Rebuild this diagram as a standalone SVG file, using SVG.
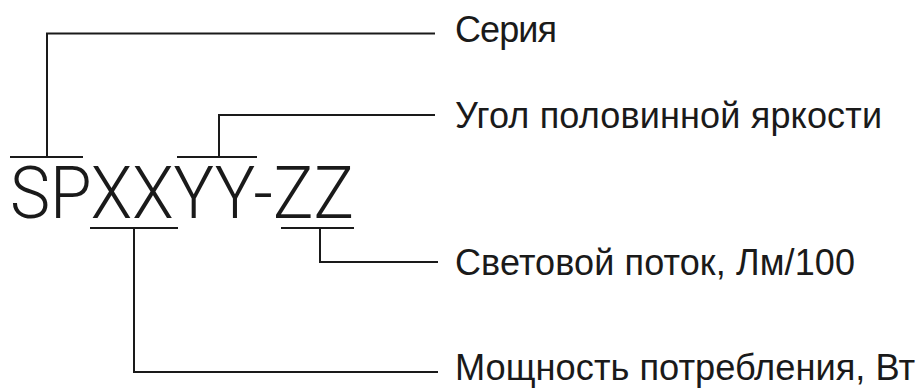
<svg xmlns="http://www.w3.org/2000/svg" width="921" height="389" viewBox="0 0 921 389">
<style>
.ln{fill:none;stroke:#1a1a1a;stroke-width:2;}
.lbl{font-family:"Liberation Sans",Arial,sans-serif;font-size:36px;fill:#1a1a1a;}
.code{font-family:Roboto,"Liberation Sans",sans-serif;font-weight:300;font-size:72px;fill:#1a1a1a;}
</style>
<rect width="921" height="389" fill="#ffffff"/>
<g id="code">
<text class="code" x="10" y="218" textLength="344" lengthAdjust="spacingAndGlyphs">SPXXYY-ZZ</text>
</g>
<g id="connectors">
<path class="ln" d="M10,157H83M47,157V33.5H435"/>
<path class="ln" d="M177,157H257M219,157V115H435"/>
<path class="ln" d="M281,228H354M320,228V262H438"/>
<path class="ln" d="M90,228H178M134,228V372H438"/>
</g>
<g id="seria"><text class="lbl" x="455" y="42" textLength="102">Серия</text></g>
<g id="ugol"><text class="lbl" x="455" y="127.5" textLength="427">Угол половинной яркости</text></g>
<g id="potok"><text class="lbl" x="455" y="275" textLength="400">Световой поток, Лм/100</text></g>
<g id="moshch"><text class="lbl" x="455" y="380" font-size="35" textLength="460" lengthAdjust="spacingAndGlyphs">Мощность потребления, Вт</text></g>
</svg>
